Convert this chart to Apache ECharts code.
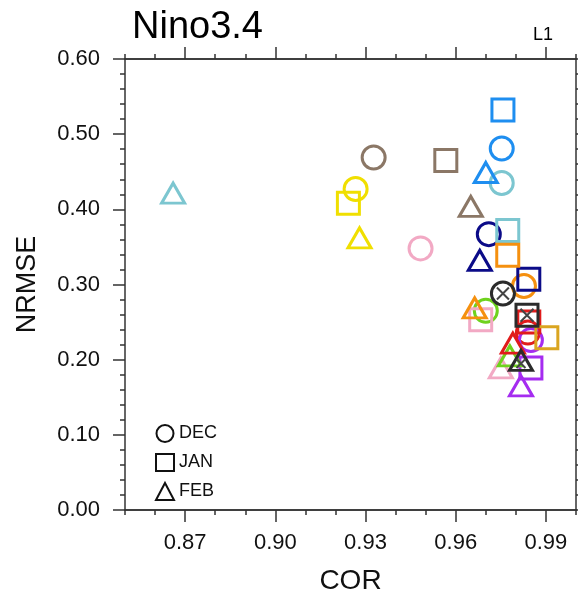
<!DOCTYPE html>
<html>
<head>
<meta charset="utf-8">
<script src="https://cdn.jsdelivr.net/npm/echarts@6/dist/echarts.min.js"></script>
<style>html,body{margin:0;padding:0;background:#fff}#c{width:578px;height:602px}</style>
</head>
<body>
<div id="c"></div>
<script>
// Model colours (same order in every month array)
const modelColors = ['#8b7766','#f0df00','#f2a9c4','#1e8ef0','#7cc6d0','#0b0b88','#f5900f','#6fd21e','#e01b1b','#a52cf0','#daa520','#2b2b2b'];
// DEC (circles)
const decCor   = [0.9327,0.9267,0.9483,0.9753,0.9753,0.9710,0.9827,0.9700,0.9840,0.9850,null,0.9757];
const decNrmse = [0.469,0.427,0.348,0.481,0.435,0.367,0.298,0.265,0.236,0.226,null,0.288];
// JAN (squares)
const janCor   = [0.9567,0.9243,0.9683,0.9757,0.9773,0.9843,0.9773,null,0.9843,0.9850,0.9903,0.9837];
const janNrmse = [0.465,0.408,0.253,0.532,0.372,0.307,0.339,null,0.250,0.189,0.229,0.259];
// FEB (triangles)
const febCor   = [0.9650,0.9280,0.9750,0.9700,0.8660,0.9680,0.9663,0.9780,0.9790,0.9817,null,0.9817];
const febNrmse = [0.404,0.362,0.189,0.449,0.4215,0.332,0.269,0.205,0.222,0.165,null,0.199];
const ensembleIndex = 11; // black markers carry an X
// Tick labels
const xMajor = [0.87,0.90,0.93,0.96,0.99];

const FONT = 'Liberation Sans, Arial, Helvetica, sans-serif';
const chart = echarts.init(document.getElementById('c'), null, {renderer:'canvas'});

function pts(cor, nrmse) {
  const out = [];
  cor.forEach((c, i) => {
    if (c == null || nrmse[i] == null) return;
    out.push({ value:[c, nrmse[i]], itemStyle:{ color:'transparent', borderColor:modelColors[i], borderWidth:3, opacity:1 } });
  });
  return out;
}
function crossPts(cor, nrmse) {
  return [[cor[ensembleIndex], nrmse[ensembleIndex]]];
}

const grid = { left:125, right:2, top:59, bottom:92 };
const lineStyle = { color:'#333', width:1.5 };

const xBase = { type:'value', min:0.85, max:1.0, gridIndex:0,
  axisLine:{ show:true, onZero:false, lineStyle }, splitLine:{show:false} };

const option = {
  animation:false,
  backgroundColor:'#fff',
  title:[
    { text:'Nino3.4', left:127, top:4, textStyle:{ fontFamily:FONT, fontSize:38, fontWeight:'normal', color:'#000' } },
    { text:'L1', right:20, top:21, textStyle:{ fontFamily:FONT, fontSize:18, fontWeight:'normal', color:'#000' } }
  ],
  grid,
  legend:{
    orient:'vertical', left:150, top:419, itemWidth:18, itemHeight:17, itemGap:10,
    data:['DEC','JAN','FEB'],
    itemStyle:{ color:'transparent', borderColor:'#111', borderWidth:2, opacity:1 },
    textStyle:{ fontFamily:FONT, fontSize:18, color:'#111' },
    selectedMode:false
  },
  xAxis:[
    Object.assign({}, xBase, { position:'bottom', interval:0.01,
      axisTick:{ show:true, length:5, lineStyle }, axisLabel:{show:false} }),
    Object.assign({}, xBase, { position:'bottom',
      axisTick:{ show:true, length:12, lineStyle, customValues:xMajor },
      axisLabel:{ show:true, customValues:xMajor, margin:22, fontFamily:FONT, fontSize:22, color:'#111',
        formatter:v => v.toFixed(2) },
      name:'COR', nameLocation:'middle', nameGap:57,
      nameTextStyle:{ fontFamily:FONT, fontSize:28, color:'#111' } }),
    Object.assign({}, xBase, { position:'top', interval:0.01,
      axisTick:{ show:true, length:5, lineStyle }, axisLabel:{show:false} }),
    Object.assign({}, xBase, { position:'top',
      axisTick:{ show:true, length:12, lineStyle, customValues:xMajor }, axisLabel:{show:false} })
  ],
  yAxis:[
    { type:'value', min:0, max:0.6, interval:0.1, position:'left',
      axisLine:{ show:true, onZero:false, lineStyle },
      axisTick:{ show:true, length:12, lineStyle },
      minorTick:{ show:true, splitNumber:5, length:5, lineStyle },
      splitLine:{show:false}, minorSplitLine:{show:false},
      axisLabel:{ margin:25, fontFamily:FONT, fontSize:22, color:'#111', formatter:v => v.toFixed(2) },
      name:'NRMSE', nameLocation:'middle', nameGap:84,
      nameTextStyle:{ fontFamily:FONT, fontSize:27, color:'#111' } },
    { type:'value', min:0, max:0.6, interval:0.1, position:'right',
      axisLine:{ show:true, onZero:false, lineStyle },
      axisTick:{ show:true, length:12, lineStyle },
      minorTick:{ show:true, splitNumber:5, length:5, lineStyle },
      splitLine:{show:false}, axisLabel:{show:false} }
  ],
  series:[
    { name:'DEC', type:'scatter', xAxisIndex:1, yAxisIndex:0, symbol:'circle', symbolSize:23,
      itemStyle:{ color:'transparent', borderColor:'#111', borderWidth:3, opacity:1 },
      emphasis:{disabled:true}, data:pts(decCor, decNrmse) },
    { name:'JAN', type:'scatter', xAxisIndex:1, yAxisIndex:0, symbol:'rect', symbolSize:22,
      itemStyle:{ color:'transparent', borderColor:'#111', borderWidth:3, opacity:1 },
      emphasis:{disabled:true}, data:pts(janCor, janNrmse) },
    { name:'FEB', type:'scatter', xAxisIndex:1, yAxisIndex:0, symbol:'triangle', symbolSize:[23,20],
      itemStyle:{ color:'transparent', borderColor:'#111', borderWidth:3, opacity:1 },
      emphasis:{disabled:true}, data:pts(febCor, febNrmse) },
    { name:'xDEC', type:'scatter', xAxisIndex:1, yAxisIndex:0, symbol:'path://M0,0L10,10M0,10L10,0', symbolSize:12,
      itemStyle:{ color:'none', borderColor:'#444', borderWidth:2, opacity:1 }, emphasis:{disabled:true}, data:crossPts(decCor, decNrmse) },
    { name:'xJAN', type:'scatter', xAxisIndex:1, yAxisIndex:0, symbol:'path://M0,0L10,10M0,10L10,0', symbolSize:13,
      itemStyle:{ color:'none', borderColor:'#444', borderWidth:2, opacity:1 }, emphasis:{disabled:true}, data:crossPts(janCor, janNrmse) },
    { name:'xFEB', type:'scatter', xAxisIndex:1, yAxisIndex:0, symbol:'path://M0,0L10,10M0,10L10,0', symbolSize:9, symbolOffset:[0,3],
      itemStyle:{ color:'none', borderColor:'#444', borderWidth:2, opacity:1 }, emphasis:{disabled:true}, data:crossPts(febCor, febNrmse) }
  ]
};
chart.setOption(option);
</script>
</body>
</html>
